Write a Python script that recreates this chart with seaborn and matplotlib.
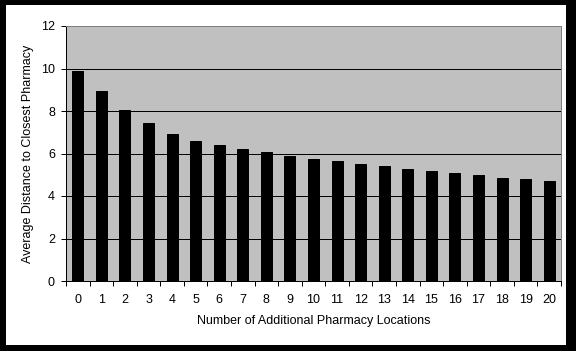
import matplotlib
matplotlib.use("Agg")
import matplotlib.pyplot as plt
from matplotlib.patches import Rectangle
import seaborn as sns
import pandas as pd
import numpy as np

locations = list(range(21))
distances = [9.89, 8.95, 8.05, 7.44, 6.92, 6.59, 6.40, 6.21, 6.07, 5.88, 5.74,
             5.65, 5.51, 5.41, 5.27, 5.17, 5.08, 4.98, 4.84, 4.79, 4.70]
y_ticks = [0, 2, 4, 6, 8, 10, 12]

sns.set_theme(style="white")
plt.rcParams['font.family'] = ['Liberation Sans', 'DejaVu Sans']

W, H = 576, 351
fig = plt.figure(figsize=(W / 72, H / 72), dpi=72)
fig.patch.set_facecolor("white")
ax = fig.add_axes([66 / W, (H - 281) / H, 495 / W, 255 / H])

df = pd.DataFrame({"loc": [str(v) for v in locations], "dist": distances})
sns.barplot(data=df, x="loc", y="dist", color="black", width=0.47,
            saturation=1, ax=ax, zorder=3, edgecolor="black")

FS = 12.5
ax.set_facecolor("#C0C0C0")
ax.set_ylim(0, 12)
ax.set_xlim(-0.5, len(locations) - 0.5)
ax.set_yticks(y_ticks)
ax.set_yticklabels([str(v) for v in y_ticks], fontsize=FS, color="black")
ax.yaxis.grid(True, color="black", linewidth=1, zorder=1)
ax.set_axisbelow(True)
ax.tick_params(axis="y", direction="out", length=5, width=1, color="black", pad=6, left=True)
ax.tick_params(axis="x", which="major", length=0, pad=13, labelsize=FS, labelcolor="black")
ax.set_xticks(np.arange(-0.5, len(locations), 1.0), minor=True)
ax.tick_params(axis="x", which="minor", direction="out", length=5, width=1, color="black", bottom=True)

for s in ["left", "bottom"]:
    ax.spines[s].set_color("black")
    ax.spines[s].set_linewidth(1)
for s in ["top", "right"]:
    ax.spines[s].set_color("#808080")
    ax.spines[s].set_linewidth(1)

ax.set_xlabel("Number of Additional Pharmacy Locations", fontsize=FS, color="black", labelpad=9)
ax.set_ylabel("Average Distance to Closest Pharmacy", fontsize=FS, color="black", labelpad=7)

# outer black frame
for (x0, y0, w, h) in [(0, 0, 5.5 / W, 1), (1 - 10 / W, 0, 10 / W, 1),
                       (0, 0, 1, 6 / H), (0, 1 - 5 / H, 1, 5 / H)]:
    fig.patches.append(Rectangle((x0, y0), w, h, transform=fig.transFigure,
                                 facecolor="black", edgecolor="none", zorder=10))

fig.savefig("out.png", dpi=72)
